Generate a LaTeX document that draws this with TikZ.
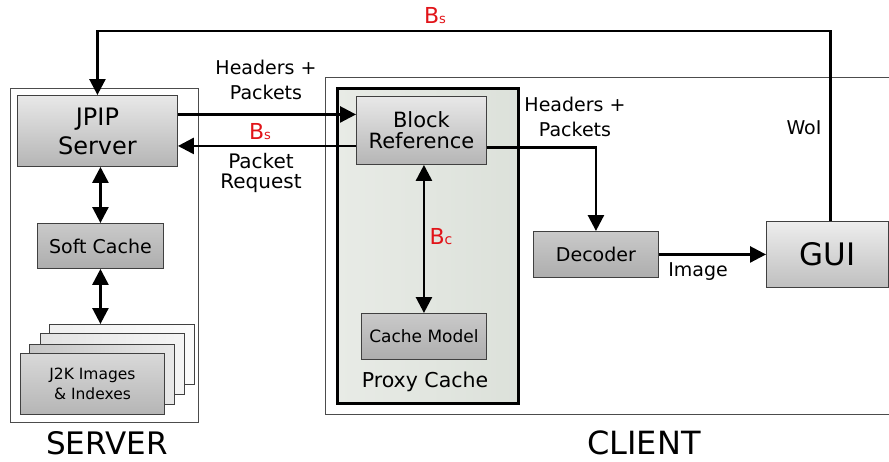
\documentclass[tikz,border=0pt]{standalone}
\usepackage{fontspec}
\setmainfont{DejaVu Sans}
\usetikzlibrary{arrows.meta,calc}
\definecolor{redl}{RGB}{225,20,25}
\definecolor{proxyA}{RGB}{232,235,230}
\definecolor{proxyB}{RGB}{220,225,218}
\begin{document}
\begin{tikzpicture}[x=1pt,y=-1pt,
  lbl/.style={inner sep=0pt, align=center, font=\fontsize{19}{24}\selectfont},
  boxL/.style={draw=black!75, line width=0.9pt, top color=gray!18, bottom color=gray!58, inner sep=0pt, anchor=north west, align=center},
  boxD/.style={draw=black!75, line width=0.9pt, top color=gray!42, bottom color=gray!64, inner sep=0pt, anchor=north west, align=center},
  page/.style={draw=black!75, line width=0.9pt, inner sep=0pt, anchor=north west},
  frame/.style={draw=black!70, line width=0.9pt},
  arr/.style={line width=2.6pt, -{Triangle[length=16pt,width=16pt]}},
  darr/.style={line width=2.6pt, {Triangle[length=16pt,width=16pt]}-{Triangle[length=16pt,width=16pt]}},
  redlbl/.style={inner sep=0pt, text=redl, font=\fontsize{22}{22}\selectfont}
]
\useasboundingbox (0,0) rectangle (889,461);

% outer frames
\draw[frame] (10,88) rectangle (198,422);
\draw[frame] (889,77) -- (325,77) -- (325,414) -- (889,414);
\path[left color=proxyA, right color=proxyB] (337,88) rectangle (518,403);
\draw[line width=3pt] (337,88) rectangle (518,403);

% server side
\node[boxL, minimum width=160pt, minimum height=71pt, font=\fontsize{24}{29}\selectfont] (jpip) at (17,95)
  {JPIP\\Server};
\node[boxD, minimum width=126pt, minimum height=45pt, font=\fontsize{19}{22}\selectfont] (sc) at (37,223)
  {Soft Cache};
\node[page, minimum width=145pt, minimum height=60pt, left color=gray!12, right color=gray!3] (pg1) at (49,324) {};
\node[page, minimum width=144pt, minimum height=61pt, left color=gray!22, right color=gray!8] (pg2) at (40,333) {};
\node[page, minimum width=145pt, minimum height=60pt, left color=gray!45, right color=gray!18] (pg3) at (29,344) {};
\node[boxL, minimum width=144pt, minimum height=61pt, top color=gray!30, bottom color=gray!58, font=\fontsize{15.5}{20}\selectfont] (pg4) at (20,353)
  {J2K Images\\\& Indexes};

% client side
\node[boxL, minimum width=130pt, minimum height=68pt, font=\fontsize{21}{21}\selectfont] (bref) at (356,96)
  {Block\\Reference};
\node[boxD, minimum width=125pt, minimum height=46pt, font=\fontsize{17}{20}\selectfont] (cm) at (361,313)
  {Cache Model};
\node[boxD, minimum width=125pt, minimum height=46pt, font=\fontsize{19}{22}\selectfont] (dec) at (533,231)
  {Decoder};
\node[boxL, minimum width=122pt, minimum height=66pt, top color=gray!14, bottom color=gray!50, font=\fontsize{31}{31}\selectfont] (gui) at (766,221)
  {GUI};

% labels
\node[lbl, font=\fontsize{19}{25}\selectfont] (hp1) at (266,80) {Headers +\\Packets};
\node[redlbl] (bs1) at (260,132) {B{\fontsize{13}{13}\selectfont s}};
\node[lbl, font=\fontsize{20}{20}\selectfont] (pr) at (261,173) {Packet\\Request};
\node[lbl, font=\fontsize{19}{25}\selectfont] (hp2) at (575,117) {Headers +\\Packets};
\node[lbl] (woi) at (804,128) {WoI};
\node[redlbl] (bc) at (441,237) {B{\fontsize{14}{14}\selectfont c}};
\node[lbl] (img) at (698,272) {Image};
\node[lbl, font=\fontsize{20.5}{22}\selectfont] (pc) at (425,382) {Proxy Cache};
\node[redlbl] (bs2) at (435,16) {B{\fontsize{13}{13}\selectfont s}};
\node[inner sep=0pt, anchor=base, font=\fontsize{31}{31}\selectfont] (srv) at (107,454) {SERVER};
\node[inner sep=0pt, anchor=base, font=\fontsize{32}{32}\selectfont] (cli) at (644,454) {CLIENT};

% connectors
\coordinate (topl) at (0,31);
\draw[arr] ([yshift=16.5pt]jpip.east) -- ([yshift=16.5pt]jpip.east -| bref.west);
\draw[arr] ([yshift=-15.5pt]bref.west) -- ([yshift=-15.5pt]bref.west -| jpip.east);
\draw[arr] ([yshift=-17pt]bref.east) -| (dec.north);
\draw[arr] (dec.east) -- (gui.west);
\draw[arr] ([xshift=3pt]gui.north) -- ([xshift=3pt]gui.north |- topl) -- (jpip.north |- topl) -- (jpip.north);
\draw[darr] (sc.north |- jpip.south) -- (sc.north);
\draw[darr] (sc.south) -- (sc.south |- pg1.north);
\draw[darr] (cm.north |- bref.south) -- (cm.north);
\end{tikzpicture}
\end{document}
